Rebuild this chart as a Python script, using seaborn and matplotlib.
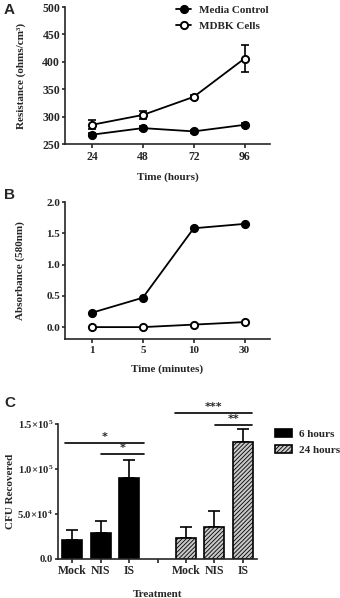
import numpy as np
import pandas as pd
import matplotlib
matplotlib.use("Agg")
import matplotlib.pyplot as plt
import seaborn as sns

# ---- data ----
hours = ["24", "48", "72", "96"]
media_resist = [267, 279, 273, 285]
media_resist_err = [3, 3, 3, 3]
mdbk_resist = [285, 303, 336, 406]
mdbk_resist_err = [8, 8, 3, 25]

minutes = ["1", "5", "10", "30"]
abs_filled = [0.23, 0.47, 1.58, 1.65]
abs_open = [0.0, 0.0, 0.04, 0.08]

treatments = ["Mock", "NIS", "IS"]
cfu_6h = [21000, 29000, 90500]
cfu_6h_err = [11000, 13000, 19500]
cfu_24h = [23000, 36000, 130000]
cfu_24h_err = [13000, 17000, 14000]
yticks_c = [0, 50000, 100000, 150000]
ytick_labels_c = ["0.0", "5.0×10$^{4}$", "1.0×10$^{5}$", "1.5×10$^{5}$"]

sns.set_theme(style="ticks")
plt.rcParams["font.family"] = ["Liberation Serif", "DejaVu Serif"]
plt.rcParams["font.weight"] = "bold"
plt.rcParams["axes.labelweight"] = "bold"
plt.rcParams["mathtext.fontset"] = "custom"
plt.rcParams["mathtext.rm"] = "Liberation Serif:bold"
plt.rcParams["mathtext.it"] = "Liberation Serif:bold"
plt.rcParams["mathtext.bf"] = "Liberation Serif:bold"
plt.rcParams["axes.linewidth"] = 1.2
plt.rcParams["xtick.major.width"] = 1.2
plt.rcParams["ytick.major.width"] = 1.2
plt.rcParams["xtick.major.size"] = 3
plt.rcParams["ytick.major.size"] = 2.5
plt.rcParams["xtick.major.pad"] = 2
plt.rcParams["ytick.major.pad"] = 1
plt.rcParams["xtick.direction"] = "out"
plt.rcParams["ytick.direction"] = "out"
plt.rcParams["hatch.linewidth"] = 0.6

FS = 8
TFS = 8.5
fig = plt.figure(figsize=(3.4, 5.98), dpi=100)
axA = fig.add_axes([65/340, 1-144/598, 205/340, 137/598])
axB = fig.add_axes([65/340, 1-339/598, 205/340, 137/598])
axC = fig.add_axes([58/340, 1-559/598, 199/340, 135/598])

MS = 5.2
MEW = 1.4

# ---- Panel A ----
dfA = pd.DataFrame({
    "pos": list(range(4)) * 2,
    "val": media_resist + mdbk_resist,
    "grp": ["Media Control"] * 4 + ["MDBK Cells"] * 4,
})
for name, vals, errs, fc in [("Media Control", media_resist, media_resist_err, "black"),
                             ("MDBK Cells", mdbk_resist, mdbk_resist_err, "white")]:
    sub = dfA[dfA.grp == name]
    axA.errorbar(sub["pos"], vals, yerr=errs, fmt="none", ecolor="black",
                 elinewidth=1.2, capsize=3, capthick=1.2, zorder=2)
    sns.lineplot(data=sub, x="pos", y="val", ax=axA, color="black", lw=1.3,
                 marker="o", markersize=MS, markerfacecolor=fc,
                 markeredgecolor="black", markeredgewidth=MEW, label=name, zorder=3)
axA.set_xlim(-0.53, 3.5)
axA.set_ylim(250, 500)
axA.set_yticks([250, 300, 350, 400, 450, 500])
axA.set_xticks(range(4))
axA.set_xticklabels(hours)
axA.set_xlabel("Time (hours)", fontsize=FS, fontweight="bold", labelpad=7)
axA.set_ylabel("Resistance (ohms/cm³)", fontsize=FS, fontweight="bold", labelpad=12)
axA.tick_params(labelsize=TFS)
leg = axA.legend(loc="upper right", bbox_to_anchor=(1.04, 1.085), frameon=False,
                 handlelength=1.3, handletextpad=0.7, labelspacing=0.55,
                 prop={"weight": "bold", "size": FS})
sns.despine(ax=axA)

# ---- Panel B ----
dfB = pd.DataFrame({
    "pos": list(range(4)) * 2,
    "val": abs_filled + abs_open,
    "grp": ["filled"] * 4 + ["open"] * 4,
})
for name, fc in [("filled", "black"), ("open", "white")]:
    sub = dfB[dfB.grp == name]
    sns.lineplot(data=sub, x="pos", y="val", ax=axB, color="black", lw=1.3,
                 marker="o", markersize=MS, markerfacecolor=fc,
                 markeredgecolor="black", markeredgewidth=MEW, legend=False)
axB.set_xlim(-0.53, 3.5)
axB.set_ylim(-0.19, 2.0)
axB.set_yticks([0.0, 0.5, 1.0, 1.5, 2.0])
axB.set_yticklabels(["0.0", "0.5", "1.0", "1.5", "2.0"])
axB.set_xticks(range(4))
axB.set_xticklabels(minutes)
axB.set_xlabel("Time (minutes)", fontsize=FS, fontweight="bold", labelpad=7)
axB.set_ylabel("Absorbance (580nm)", fontsize=FS, fontweight="bold", labelpad=15)
axB.tick_params(labelsize=TFS - 0.5)
sns.despine(ax=axB)

# ---- Panel C ----
order = ["Mock6", "NIS6", "IS6", "gap", "Mock24", "NIS24", "IS24"]
dfC = pd.DataFrame({
    "cat": ["Mock6", "NIS6", "IS6", "Mock24", "NIS24", "IS24"],
    "val": cfu_6h + cfu_24h,
    "time": ["6 hours"] * 3 + ["24 hours"] * 3,
})
sns.barplot(data=dfC, x="cat", y="val", order=order, hue="time",
            hue_order=["6 hours", "24 hours"], palette=["black", "#9a9a9a"],
            dodge=False, width=0.7, ax=axC, edgecolor="black", linewidth=1.2,
            errorbar=None, legend=True)
for p in axC.patches:
    if p.get_facecolor()[0] > 0.3:
        p.set_hatch("////////")
        p.set_facecolor("#c8c8c8")
pos6 = [0, 1, 2]
pos24 = [4, 5, 6]
axC.errorbar(pos6, cfu_6h, yerr=[[0]*3, cfu_6h_err], fmt="none", ecolor="black",
             elinewidth=1.2, capsize=4, capthick=1.2, zorder=0)
axC.errorbar(pos24, cfu_24h, yerr=[[0]*3, cfu_24h_err], fmt="none", ecolor="black",
             elinewidth=1.2, capsize=4, capthick=1.2, zorder=0)
axC.set_xlim(-0.5, 6.5)
axC.set_ylim(0, 150000)
axC.set_yticks(yticks_c)
axC.set_yticklabels(ytick_labels_c)
axC.set_xticks(range(7))
axC.set_xticklabels(["Mock", "NIS", "IS", "", "Mock", "NIS", "IS"])
axC.tick_params(axis="x", labelsize=FS + 0.5, pad=1.5)
axC.tick_params(axis="y", labelsize=FS - 0.3)
axC.set_xlabel("Treatment", fontsize=FS, fontweight="bold", labelpad=9)
axC.set_ylabel("CFU Recovered", fontsize=FS, fontweight="bold", labelpad=2)
sns.despine(ax=axC)

# significance lines
sig = [(-0.25, 2.53, 128900, "*"), (1.0, 2.53, 116700, "*"),
       (3.6, 6.32, 162200, "***"), (5.02, 6.32, 148900, "**")]
for x0, x1, y, s in sig:
    axC.plot([x0, x1], [y, y], color="black", lw=1.2, clip_on=False)
    axC.text((x0 + x1) / 2, y + 1500, s, ha="center", va="bottom",
             fontsize=FS, fontweight="bold", family="DejaVu Sans")

handles, labels = axC.get_legend_handles_labels()
lg = axC.legend(handles, labels, loc="upper left", bbox_to_anchor=(1.04, 1.04),
                frameon=False, prop={"weight": "bold", "size": FS},
                handlelength=1.5, handleheight=0.8, handletextpad=0.7, labelspacing=0.55)
for h in lg.legend_handles:
    if h.get_facecolor()[0] > 0.3:
        h.set_hatch("////////")
        h.set_facecolor("#c8c8c8")
    h.set_edgecolor("black")

# panel letters
for lbl, y in [("A", 3), ("B", 188), ("C", 396)]:
    fig.text(4/340, 1 - y/598, lbl, fontsize=11, fontweight="bold",
             family="Liberation Sans", va="top", ha="left")

fig.savefig("out.png", dpi=100)
